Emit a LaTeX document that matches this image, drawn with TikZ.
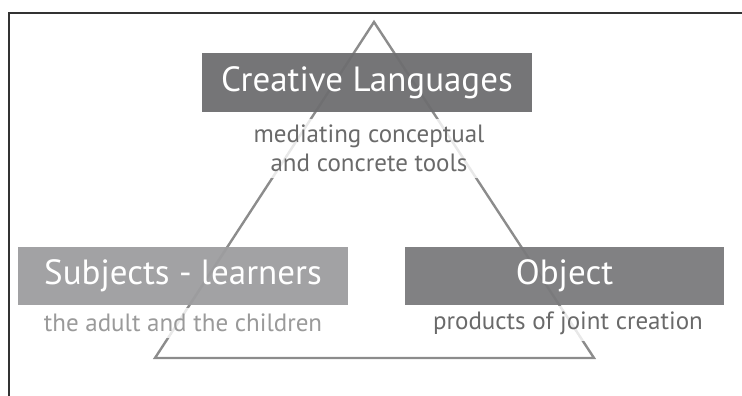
\documentclass[tikz,border=0pt]{standalone}
\usepackage{fontspec}
\setmainfont{PT Sans}
\definecolor{boxdark}{HTML}{6E6E70}
\definecolor{boxmid}{HTML}{7A7A7C}
\definecolor{boxlight}{HTML}{9D9D9F}
\definecolor{labeldark}{HTML}{6A6A6A}
\definecolor{labellight}{HTML}{9A9A9A}
\definecolor{edgegray}{HTML}{8C8C8C}
\begin{document}
\begin{tikzpicture}
  [x=1pt,y=-1pt,
   box/.style={rectangle,inner sep=0pt,fill opacity=.95,text opacity=1,text=white,
     font=\fontsize{35}{40}\selectfont,minimum height=58pt},
   note/.style={inner xsep=4pt,inner ysep=6pt,fill=white,fill opacity=.8,text opacity=1,
     font=\fontsize{25}{29}\selectfont,align=center}]
  \useasboundingbox (0,0) rectangle (742,396);
  % frame
  \draw[line width=1.3pt,black!80] (9,396) -- (9,13) -- (742,13);
  % triangle
  \coordinate (apex) at (374,22);
  \coordinate (bl) at (155,358);
  \coordinate (br) at (594,358);
  \draw[edgegray,line width=2.4pt,line join=miter] (apex) -- (bl) -- (br) -- cycle;
  % labels
  \node[note,text=labeldark] (tools) at (369,148) {mediating conceptual\\and concrete tools};
  \node[note,text=labellight] (adult) at (183,323) {the adult and the children};
  \node[note,text=labeldark] (joint) at (568,323) {products of joint creation};
  % boxes
  \node[box,fill=boxdark,minimum width=330pt] (lang) at (367,82.5) {Creative Languages};
  \node[box,fill=boxlight,minimum width=330pt] (subj) at (183,276) {Subjects - learners};
  \node[box,fill=boxmid,minimum width=319pt] (obj) at (564.5,276) {Object};
\end{tikzpicture}
\end{document}
